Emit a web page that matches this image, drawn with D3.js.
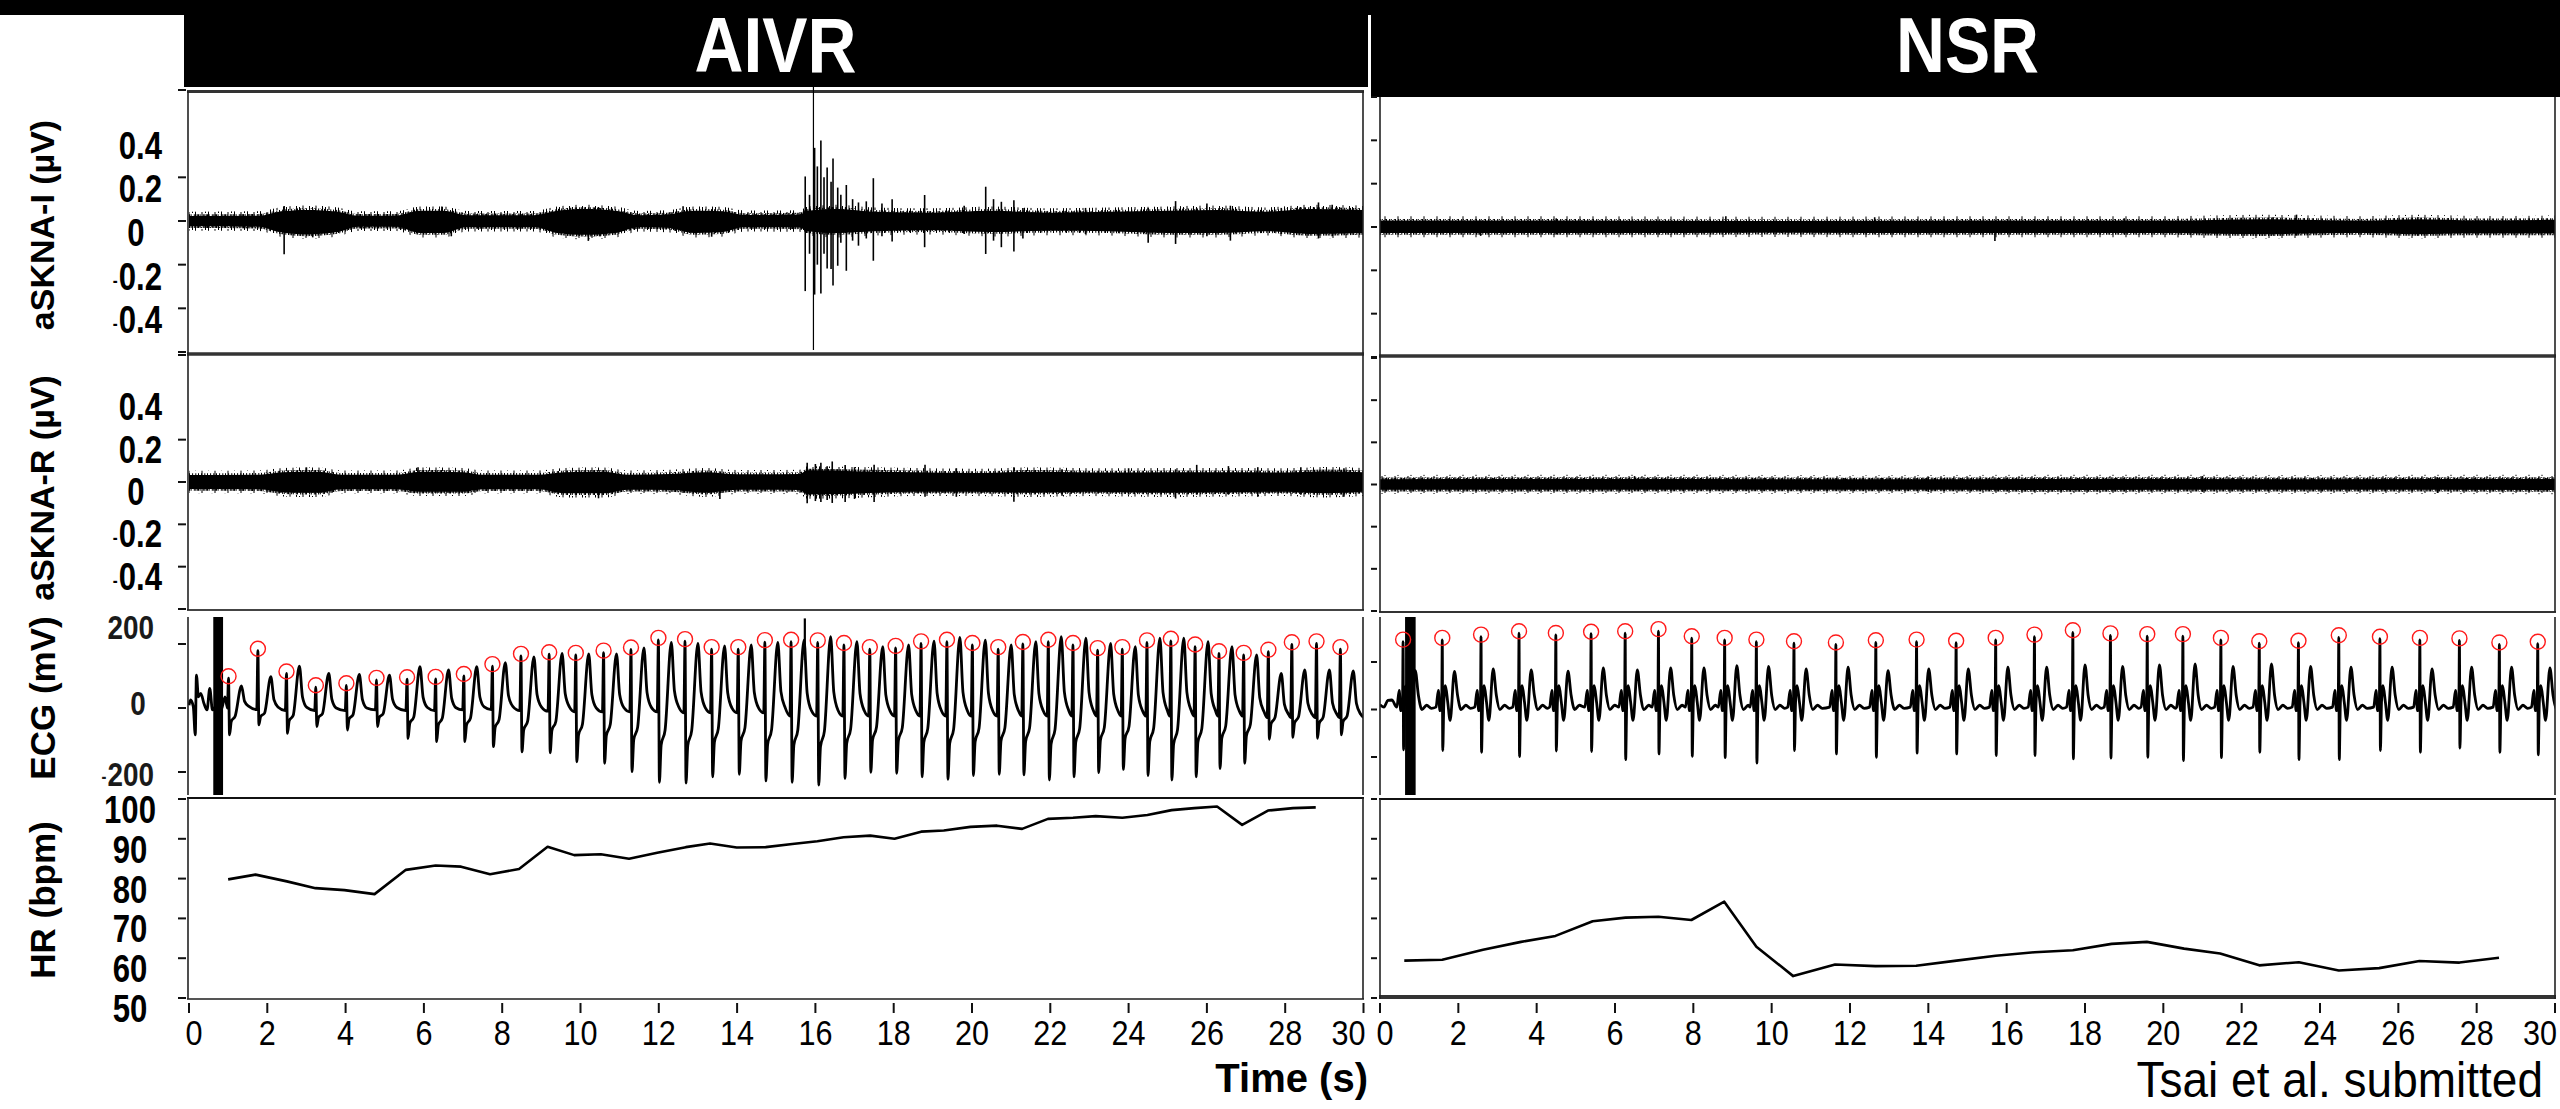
<!DOCTYPE html>
<html>
<head>
<meta charset="utf-8">
<script src="https://cdn.jsdelivr.net/npm/d3@7"></script>
<style>
html, body { margin: 0; padding: 0; background: #fff; }
svg { display: block; }
</style>
</head>
<body>
<script>
// ---- data ----
// time axis (s)
var xTickVals = [0, 2, 4, 6, 8, 10, 12, 14, 16, 18, 20, 22, 24, 26, 28, 30];
var skTickLabels = [0.4, 0.2, 0, -0.2, -0.4];
var ecgTickLabels = [200, 0, -200];
var hrTickVals = [100, 90, 80, 70, 60, 50];

// aSKNA envelopes: [t, upper, lower] in uV
var aivrSkiEnv = [[0, .022, -.024], [1.8, .024, -.026], [2.3, .045, -.055], [3.0, .055, -.068], [3.8, .045, -.055],
  [4.3, .024, -.026], [5.3, .024, -.026], [5.9, .05, -.06], [6.5, .05, -.06], [7.1, .026, -.028], [8.8, .026, -.028],
  [9.4, .05, -.06], [10.1, .06, -.07], [10.9, .05, -.06], [11.5, .026, -.028], [12.2, .03, -.032], [12.9, .05, -.06],
  [13.6, .048, -.056], [14.2, .028, -.028], [15.6, .03, -.03], [15.8, .05, -.05], [16.6, .06, -.06], [17.5, .045, -.05],
  [19, .04, -.045], [20.5, .05, -.055], [22, .04, -.048], [23.5, .045, -.05], [25, .05, -.06], [26.3, .055, -.06],
  [27.5, .045, -.05], [28.6, .06, -.065], [30, .055, -.06]];
var aivrSkiSpikes = [[2.43, .069, -.152], [3.16, .04, -.075], [6.46, .066, -.03], [6.7, .035, -.07], [10.2, .056, -.091],
  [10.5, .06, -.07], [12.62, .068, -.04], [13.35, .046, -.072], [15.74, .204, -.321], [15.85, .12, -.15],
  [15.98, .335, -.337], [16.05, .25, -.2], [16.14, .369, -.332], [16.22, .2, -.15], [16.30, .245, -.218],
  [16.4, .18, -.22], [16.45, .286, -.295], [16.57, .153, -.205], [16.65, .12, -.1], [16.79, .165, -.228],
  [16.95, .1, -.09], [17.10, .085, -.113], [17.3, .09, -.08], [17.48, .196, -.182], [17.7, .08, -.07],
  [17.96, .1, -.094], [18.79, .119, -.12], [19.8, .07, -.06], [20.35, .157, -.151], [20.55, .1, -.09],
  [20.75, .088, -.12], [21.07, .095, -.14], [21.3, .06, -.08], [22.9, .06, -.06], [24.5, .06, -.1],
  [25.2, .091, -.105], [26, .08, -.07], [26.6, .07, -.09], [27.9, .06, -.06], [28.85, .085, -.08], [29.2, .075, -.07]];
var aivrMarkT = [15.95];

var aivrSkrEnv = [[0, .034, -.034], [1.8, .036, -.036], [2.4, .05, -.052], [3.3, .052, -.055], [3.9, .036, -.036],
  [5.3, .036, -.036], [5.9, .052, -.05], [7.0, .05, -.05], [7.5, .036, -.036], [8.9, .036, -.036], [9.6, .05, -.058],
  [10.6, .052, -.058], [11.2, .036, -.038], [12.3, .04, -.04], [13.2, .05, -.055], [14.0, .038, -.038], [15.6, .04, -.04],
  [15.8, .06, -.065], [17, .055, -.06], [18.5, .05, -.05], [20, .045, -.05], [21.5, .052, -.055], [23, .048, -.05],
  [25, .05, -.055], [26.5, .05, -.052], [28, .048, -.05], [29, .055, -.058], [30, .05, -.05]];
var aivrSkrSpikes = [[3.0, .069, -.04], [5.85, .07, -.04], [10.46, .04, -.077], [13.56, .035, -.08], [15.79, .091, -.1],
  [16.0, .085, -.09], [16.14, .091, -.094], [16.3, .075, -.085], [16.43, .097, -.099], [16.76, .08, -.094],
  [17.0, .07, -.08], [17.5, .081, -.094], [18.8, .081, -.07], [19.6, .065, -.07], [21.07, .07, -.093],
  [22.3, .06, -.065], [24.0, .065, -.06], [25.2, .06, -.078], [25.74, .081, -.06], [26.55, .075, -.06],
  [27.3, .07, -.07], [28.4, .07, -.06], [29.5, .065, -.07]];

var nsrSkiEnv = [[0, .03, -.028], [5, .03, -.028], [10, .028, -.026], [15, .03, -.028], [20, .03, -.028],
  [22.5, .038, -.035], [23.5, .035, -.032], [25, .03, -.028], [26.5, .038, -.034], [28, .032, -.03], [30, .034, -.03]];
var nsrSkiSpikes = [[2.57, .03, -.041], [4.5, .04, -.035], [8.83, .05, -.035], [12.63, .045, -.03], [15.7, .03, -.065],
  [19, .04, -.035], [22.8, .045, -.035], [23.4, .057, -.04], [26.5, .045, -.04]];

var nsrSkrEnv = [[0, .025, -.025], [6, .026, -.025], [12, .024, -.024], [18, .026, -.026], [24, .025, -.025], [30, .026, -.026]];
var nsrSkrSpikes = [[6.5, .04, -.03], [14, .035, -.035], [21, .04, -.035], [27, .035, -.04]];

// ECG, AIVR: beat times (s), R peak, S trough, T peak, baseline (mV)
var aivrPre = [[0, 9], [0.04, 25], [0.11, 4], [0.16, -84], [0.19, 103], [0.24, 35], [0.3, 46], [0.38, 15],
  [0.46, -6], [0.53, 61], [0.6, -6], [0.67, 4], [0.75, 25], [0.82, -6], [0.92, 35]];
var aivrRt = [1.01, 1.76, 2.49, 3.24, 4.02, 4.79, 5.57, 6.30, 7.02, 7.75, 8.48, 9.20, 9.88, 10.59, 11.29, 11.99, 12.67,
  13.35, 14.03, 14.71, 15.38, 16.06, 16.73, 17.39, 18.05, 18.70, 19.36, 20.01, 20.67, 21.30, 21.95, 22.58, 23.21,
  23.84, 24.47, 25.08, 25.70, 26.31, 26.94, 27.57, 28.17, 28.80, 29.41];
var aivrR = [93, 179, 108, 65, 71, 88, 90, 91, 100, 131, 163, 168, 166, 173, 183, 213, 209, 184, 184, 206, 207, 205, 197,
  184, 188, 202, 207, 197, 184, 200, 207, 197, 181, 184, 205, 210, 192, 171, 166, 176, 199, 202, 184];
var aivrS = [-84, -53, -79, -58, -69, -58, -95, -105, -105, -121, -137, -140, -168, -173, -199, -232, -235, -215, -207,
  -228, -232, -241, -220, -201, -204, -215, -223, -211, -207, -209, -225, -215, -202, -192, -211, -225, -215, -189,
  -173, -98, -92, -95, -84];
var aivrT = [69, 98, 131, 108, 105, 103, 129, 119, 129, 142, 160, 171, 169, 169, 188, 205, 202, 194, 197, 205, 212, 223,
  207, 192, 197, 209, 221, 212, 197, 207, 223, 218, 202, 192, 218, 218, 207, 192, 166, 108, 119, 119, 116];
var aivrB = [0, -5, -8, -8, -8, -6, -8, -8, -6, -5, -8, -10, -12, -12, -12, -12, -15, -15, -15, -15, -25, -25, -25, -25,
  -25, -25, -25, -25, -25, -25, -25, -25, -25, -25, -25, -25, -25, -25, -25, -30, -30, -30, -30];
var aivrEcgSpike = [[15.73, 280, 150]];
var aivrBar = [0.62, 0.87];

// ECG, NSR
var nsrPre = [[0, 20], [0.1, 10], [0.2, 38], [0.3, 40]];
var nsrRt = [0.59, 1.59, 2.58, 3.55, 4.49, 5.39, 6.26, 7.11, 7.96, 8.80, 9.61, 10.57, 11.64, 12.66, 13.70, 14.71, 15.72,
  16.71, 17.69, 18.65, 19.59, 20.50, 21.47, 22.45, 23.45, 24.48, 25.53, 26.55, 27.56, 28.58, 29.56];
var nsrR = [286, 293, 307, 321, 314, 319, 321, 330, 300, 293, 286, 279, 274, 283, 286, 281, 293, 307, 325, 312, 309, 309,
  293, 279, 281, 304, 298, 293, 291, 274, 277];
var nsrS = [-170, -173, -180, -198, -175, -177, -211, -187, -197, -203, -226, -173, -187, -201, -184, -187, -194, -194,
  -208, -205, -201, -215, -203, -180, -211, -211, -173, -180, -163, -180, -191];
var nsrT = [164, 160, 171, 167, 161, 175, 167, 175, 175, 185, 181, 171, 178, 164, 171, 171, 178, 178, 188, 181, 188, 192,
  181, 192, 181, 178, 178, 171, 178, 178, 175];
var nsrBar = [0.64, 0.91];

// heart rate (bpm)
var aivrHrT = [1.00, 1.70, 2.50, 3.23, 3.97, 4.74, 5.54, 6.30, 6.95, 7.69, 8.43, 9.16, 9.84, 10.52, 11.24, 11.96, 12.69,
  13.31, 13.99, 14.73, 15.41, 16.05, 16.72, 17.40, 18.02, 18.70, 19.28, 19.96, 20.64, 21.28, 21.94, 22.58, 23.16,
  23.84, 24.48, 25.10, 25.68, 26.26, 26.90, 27.56, 28.20, 28.78];
var aivrHr = [79.8, 81.0, 79.3, 77.6, 77.1, 76.1, 82.2, 83.3, 83.0, 81.1, 82.4, 88.0, 85.9, 86.1, 85.0, 86.5, 87.9, 88.8,
  87.8, 87.9, 88.7, 89.4, 90.4, 90.8, 90.0, 91.8, 92.1, 93.0, 93.3, 92.5, 95.0, 95.3, 95.7, 95.3, 96.0, 97.2, 97.7,
  98.1, 93.5, 97.1, 97.7, 97.9];
var nsrHrT = [0.62, 1.59, 2.63, 3.60, 4.48, 5.43, 6.27, 7.11, 7.95, 8.79, 9.61, 10.55, 11.62, 12.65, 13.69, 14.72, 15.72,
  16.71, 17.69, 18.68, 19.58, 20.53, 21.45, 22.45, 23.46, 24.48, 25.51, 26.54, 27.56, 28.57];
var nsrHr = [59.4, 59.6, 62.1, 64.1, 65.6, 69.3, 70.2, 70.4, 69.6, 74.2, 62.9, 55.5, 58.4, 58.0, 58.1, 59.4, 60.6, 61.5,
  62.0, 63.6, 64.1, 62.4, 61.2, 58.2, 59.0, 56.9, 57.5, 59.3, 58.9, 60.1];

// ---- drawing ----
var SANS = '"Liberation Sans",Arial,sans-serif';

var svg = d3.select("body").append("svg").attr("width", 2560).attr("height", 1109);

// hair texture for the fringe of the nerve-activity bands
var defs = svg.append("defs");
function hairPattern(id, w, h, rects) {
    var pat = defs.append("pattern").attr("id", id).attr("patternUnits", "userSpaceOnUse")
        .attr("width", w).attr("height", h);
    rects.forEach(function (r) {
        pat.append("rect").attr("x", r[0]).attr("y", r[1]).attr("width", 1).attr("height", r[2]).attr("fill", "#000");
    });
}
hairPattern("hair", 9, 11, [[0, 0, 11], [1.6, 2, 7], [3.1, 0, 5], [3.1, 7, 4], [4.8, 3, 8], [6.3, 0, 9], [7.8, 5, 6]]);
hairPattern("hair2", 13, 17, [[0, 3, 9], [3.5, 0, 6], [6.5, 8, 9], [10, 2, 7]]);

// condensed text: horizontally squeezed
function ntext(parent, x, y, str, size, anchor, bold, sx) {
    var g = parent.append("g").attr("transform", "translate(" + x + "," + y + ") scale(" + sx + ",1)");
    var t = g.append("text").attr("x", 0).attr("y", 0).attr("text-anchor", anchor)
        .style("font-family", SANS).style("font-size", size + "px")
        .style("font-weight", bold ? "bold" : "normal").text(str);
    return t;
}

// build ECG polylines from the beat tables
function aivrTrace() {
    var pts = aivrPre.slice();
    aivrRt.forEach(function (tR, i) {
        var b = aivrB[i], s = aivrS[i], tv = aivrT[i];
        pts.push([tR - 0.03, b], [tR, aivrR[i]], [tR + 0.025, s], [tR + 0.07, s * 0.5], [tR + 0.17, s * 0.3],
            [tR + 0.33, tv], [tR + 0.41, b + (tv - b) * 0.3], [tR + 0.52, b + (tv - b) * 0.07]);
    });
    pts.push([30, -30]);
    return pts;
}
function nsrTrace() {
    var pts = nsrPre.slice();
    nsrRt.forEach(function (tR, i) {
        var next = i < nsrRt.length - 1 ? nsrRt[i + 1] : 31;
        pts.push([tR - 0.16, 10], [tR - 0.10, 80], [tR - 0.06, -5], [tR - 0.015, 15], [tR, nsrR[i]],
            [tR + 0.012, nsrS[i]], [tR + 0.04, 30], [tR + 0.08, 100], [tR + 0.14, 30], [tR + 0.2, -46],
            [tR + 0.31, nsrT[i]], [tR + 0.39, 60], [tR + 0.48, 0]);
        [[0.6, 18], [0.72, 5]].forEach(function (o) {
            if (tR + o[0] < next - 0.18) pts.push([tR + o[0], o[1]]);
        });
    });
    return pts.filter(function (d) { return d[0] <= 30.3; });
}

var panels = [
    {
        id: "aivr", x0: 189, x1: 1363.5, left: 188, right: 1363, tick: [178, 186], title: "AIVR", header: [184, 1368, 87],
        ski: {top: 91, bot: 354, rng: [352, 90], env: aivrSkiEnv, spikes: aivrSkiSpikes},
        skr: {top: 354, bot: 610, rng: [609, 355], env: aivrSkrEnv, spikes: aivrSkrSpikes},
        ecg: {top: 617, bot: 795, rng: [772, 644], pts: aivrTrace(), bar: aivrBar,
            peaks: aivrRt.map(function (t, i) { return [t, aivrR[i]]; })},
        hr: {top: 798, bot: 999, t: aivrHrT, v: aivrHr},
        skTicks: [0.6, 0.2, 0, -0.2, -0.4, -0.6]
    },
    {
        id: "nsr", x0: 1380, x1: 2555, left: 1380, right: 2555, tick: [1371, 1377], title: "NSR", header: [1371, 2560, 97],
        ski: {top: 97, bot: 357, rng: [357, 97], env: nsrSkiEnv, spikes: nsrSkiSpikes},
        skr: {top: 357, bot: 612, rng: [611, 358], env: nsrSkrEnv, spikes: nsrSkrSpikes},
        ecg: {top: 617, bot: 795, rng: [757, 662], pts: nsrTrace(), bar: nsrBar,
            peaks: nsrRt.map(function (t, i) { return [t, nsrR[i]]; })},
        hr: {top: 799, bot: 999, t: nsrHrT, v: nsrHr},
        skTicks: [0.6, 0.4, 0.2, 0, -0.2, -0.4, -0.6]
    }
];

// header bands
svg.append("rect").attr("x", 0).attr("y", 0).attr("width", 2560).attr("height", 15).attr("fill", "#000");
panels.forEach(function (p) {
    svg.append("rect").attr("x", p.header[0]).attr("y", 0)
        .attr("width", p.header[1] - p.header[0]).attr("height", p.header[2]).attr("fill", "#000");
    ntext(svg, (p.left + p.right) / 2, 72, p.title, 77, "middle", true, 0.88).attr("fill", "#fff");
});

function hline(y, xa, xb, w, c) {
    svg.append("line").attr("x1", xa).attr("x2", xb).attr("y1", y).attr("y2", y)
        .attr("stroke", c || "#222").attr("stroke-width", w);
}
function vline(x, ya, yb, w, c) {
    svg.append("line").attr("x1", x).attr("x2", x).attr("y1", ya).attr("y2", yb)
        .attr("stroke", c || "#222").attr("stroke-width", w);
}

panels.forEach(function (p, pi) {
    var x = d3.scaleLinear().domain([0, 30]).range([p.x0, p.x1]);
    var g = svg.append("g");
    var clipId = function (k) { return "clip-" + p.id + "-" + k; };

    function clip(k, top, bot) {
        svg.append("clipPath").attr("id", clipId(k)).append("rect")
            .attr("x", p.left).attr("y", top).attr("width", p.right - p.left).attr("height", bot - top);
        return g.append("g").attr("clip-path", "url(#" + clipId(k) + ")");
    }

    // aSKNA rows: solid core, plus a hairy fringe a few pixels wide
    ["ski", "skr"].forEach(function (k) {
        var row = p[k];
        var y = d3.scaleLinear().domain([-0.6, 0.6]).range(row.rng);
        var cg = clip(k, row.top, row.bot);
        function band(f, pad) {
            return d3.area().x(function (d) { return x(d[0]); })
                .y0(function (d) { return y(d[2] * f - pad); }).y1(function (d) { return y(d[1] * f + pad); })
                .curve(d3.curveMonotoneX);
        }
        cg.append("path").datum(row.env).attr("fill", "url(#hair2)").attr("d", band(0.85, 0.024));
        cg.append("path").datum(row.env).attr("fill", "url(#hair)").attr("d", band(0.85, 0.012));
        cg.append("path").datum(row.env).attr("fill", "#000").attr("d", band(0.85, 0.004));
        cg.selectAll("line.sp").data(row.spikes).join("line")
            .attr("x1", function (d) { return x(d[0]); }).attr("x2", function (d) { return x(d[0]); })
            .attr("y1", function (d) { return y(d[1]); }).attr("y2", function (d) { return y(d[2]); })
            .attr("stroke", "#000").attr("stroke-width", 1.6);
        g.selectAll(null).data(p.skTicks).join("line")
            .attr("x1", p.tick[0]).attr("x2", p.tick[1])
            .attr("y1", function (d) { return y(d); }).attr("y2", function (d) { return y(d); })
            .attr("stroke", "#111").attr("stroke-width", 2);
        row.y = y;
    });

    // ECG row
    var ey = d3.scaleLinear().domain([-200, 200]).range(p.ecg.rng);
    var eg = clip("ecg", p.ecg.top, p.ecg.bot);
    eg.append("rect").attr("x", x(p.ecg.bar[0])).attr("y", p.ecg.top)
        .attr("width", x(p.ecg.bar[1]) - x(p.ecg.bar[0])).attr("height", p.ecg.bot - p.ecg.top).attr("fill", "#000");
    eg.append("path").datum(p.ecg.pts)
        .attr("fill", "none").attr("stroke", "#000").attr("stroke-width", 2.8).attr("stroke-linejoin", "round")
        .attr("d", d3.line().x(function (d) { return x(d[0]); }).y(function (d) { return ey(d[1]); })
            .curve(d3.curveMonotoneX));
    eg.selectAll("circle").data(p.ecg.peaks).join("circle")
        .attr("cx", function (d) { return x(d[0]); }).attr("cy", function (d) { return ey(d[1]) - 2; })
        .attr("r", 7.5).attr("fill", "none").attr("stroke", "#ff1a1a").attr("stroke-width", 1.4);
    g.selectAll(null).data(ecgTickLabels).join("line")
        .attr("x1", p.tick[0]).attr("x2", p.tick[1])
        .attr("y1", function (d) { return ey(d); }).attr("y2", function (d) { return ey(d); })
        .attr("stroke", "#111").attr("stroke-width", 2);
    p.ey = ey;

    // HR row
    var hy = d3.scaleLinear().domain([50, 100]).range([998, 799]);
    g.append("path").datum(p.hr.t.map(function (t, i) { return [t, p.hr.v[i]]; }))
        .attr("fill", "none").attr("stroke", "#000").attr("stroke-width", 2.6).attr("stroke-linejoin", "round")
        .attr("d", d3.line().x(function (d) { return x(d[0]); }).y(function (d) { return hy(d[1]); }));
    g.selectAll(null).data(hrTickVals).join("line")
        .attr("x1", p.tick[0]).attr("x2", p.tick[1])
        .attr("y1", function (d) { return hy(d); }).attr("y2", function (d) { return hy(d); })
        .attr("stroke", "#111").attr("stroke-width", 2);
    p.hy = hy;

    // x axis
    var xa = g.append("g");
    xa.selectAll("line").data(xTickVals).join("line")
        .attr("x1", function (d) { return x(d); }).attr("x2", function (d) { return x(d); })
        .attr("y1", 1003).attr("y2", 1013).attr("stroke", "#111").attr("stroke-width", 2);
    xTickVals.forEach(function (d) {
        var xx = d === 0 ? x(d) + 5 : d === 30 ? x(d) + 2 : x(d);
        ntext(xa, xx, 1045, d, 36, d === 30 ? "end" : "middle", false, 0.85);
    });

    // frames
    if (pi === 0) {
        hline(91.5, p.left - 1, p.right + 1, 3, "#333");
        hline(354, p.left - 1, p.right + 1, 3.5, "#333");
        hline(610, p.left - 1, p.right + 1, 1.8, "#444");
        hline(798, p.left - 1, p.right + 1, 2.2, "#111");
        hline(999, p.left - 1, p.right + 1, 1.8, "#555");
        [p.left, p.right].forEach(function (xx) {
            vline(xx, 91, 610, 1.6);
            vline(xx, 617, 795, 1.6);
            vline(xx, 798, 999, 1.6);
        });
        // thin marker through the top channel
        aivrMarkT.forEach(function (t) { vline(x(t), 87, 350, 1.2, "#000"); });
        // ECG artefact spike
        aivrEcgSpike.forEach(function (d) { vline(x(d[0]), ey(d[1]), ey(d[2]), 2.2, "#000"); });
    } else {
        hline(356, p.left - 1, p.right + 1, 3.5, "#333");
        hline(612, p.left - 1, p.right + 1, 2.2, "#333");
        hline(799, p.left - 1, p.right + 1, 2.2, "#111");
        hline(997, p.left - 1, p.right + 1, 4, "#333");
        [p.left, p.right].forEach(function (xx) {
            vline(xx, 97, 612, 1.6);
            vline(xx, 617, 795, 1.6);
            vline(xx, 799, 999, 1.6);
        });
    }
});

// y tick labels (left column only)
var A = panels[0];
var SX = 0.82;
function tickLabel(xEnd, xMid, yBase, v, size, color) {
    var str = Math.abs(v).toString();
    var t;
    if (v === 0) {
        t = ntext(svg, xMid, yBase, str, size, "middle", true, SX);
    } else {
        t = ntext(svg, xEnd, yBase, str, size, "end", true, SX);
    }
    t.attr("fill", color);
    if (v < 0) {
        var w = t.node().getComputedTextLength() * SX;
        ntext(svg, xEnd - w - 1, yBase - 3, "-", 18, "end", true, SX).attr("fill", color);
    }
}
skTickLabels.forEach(function (v) { tickLabel(162, 136, A.ski.y(v) + 25, v, 38, "#000"); });
skTickLabels.forEach(function (v) { tickLabel(162, 136, A.skr.y(v) + 23, v, 38, "#000"); });
var ecgLabelDy = {"200": -5, "0": 7, "-200": 14};
ecgTickLabels.forEach(function (v) { tickLabel(154, 138, A.ey(v) + ecgLabelDy[v], v, 34, "#1a1a1a"); });
hrTickVals.forEach(function (v) {
    ntext(svg, 130, A.hy(v) + 24, v, 38, "middle", true, SX);
});

// y titles
[["aSKNA-I (\u00b5V)", 225, 34], ["aSKNA-R (\u00b5V)", 488, 34], ["ECG (mV)", 698, 35], ["HR (bpm)", 900, 35]].forEach(function (d) {
    svg.append("text").attr("transform", "translate(42," + d[1] + ") rotate(-90)")
        .attr("text-anchor", "middle").attr("dominant-baseline", "central")
        .style("font-family", SANS).style("font-weight", "bold").style("font-size", d[2] + "px")
        .text(d[0]);
});

svg.append("text").attr("x", 1368).attr("y", 1092).attr("text-anchor", "end")
    .style("font-family", SANS).style("font-weight", "bold").style("font-size", "40px")
    .text("Time (s)");
ntext(svg, 2543, 1097, "Tsai et al. submitted", 50, "end", false, 0.92);
</script>
</body>
</html>
